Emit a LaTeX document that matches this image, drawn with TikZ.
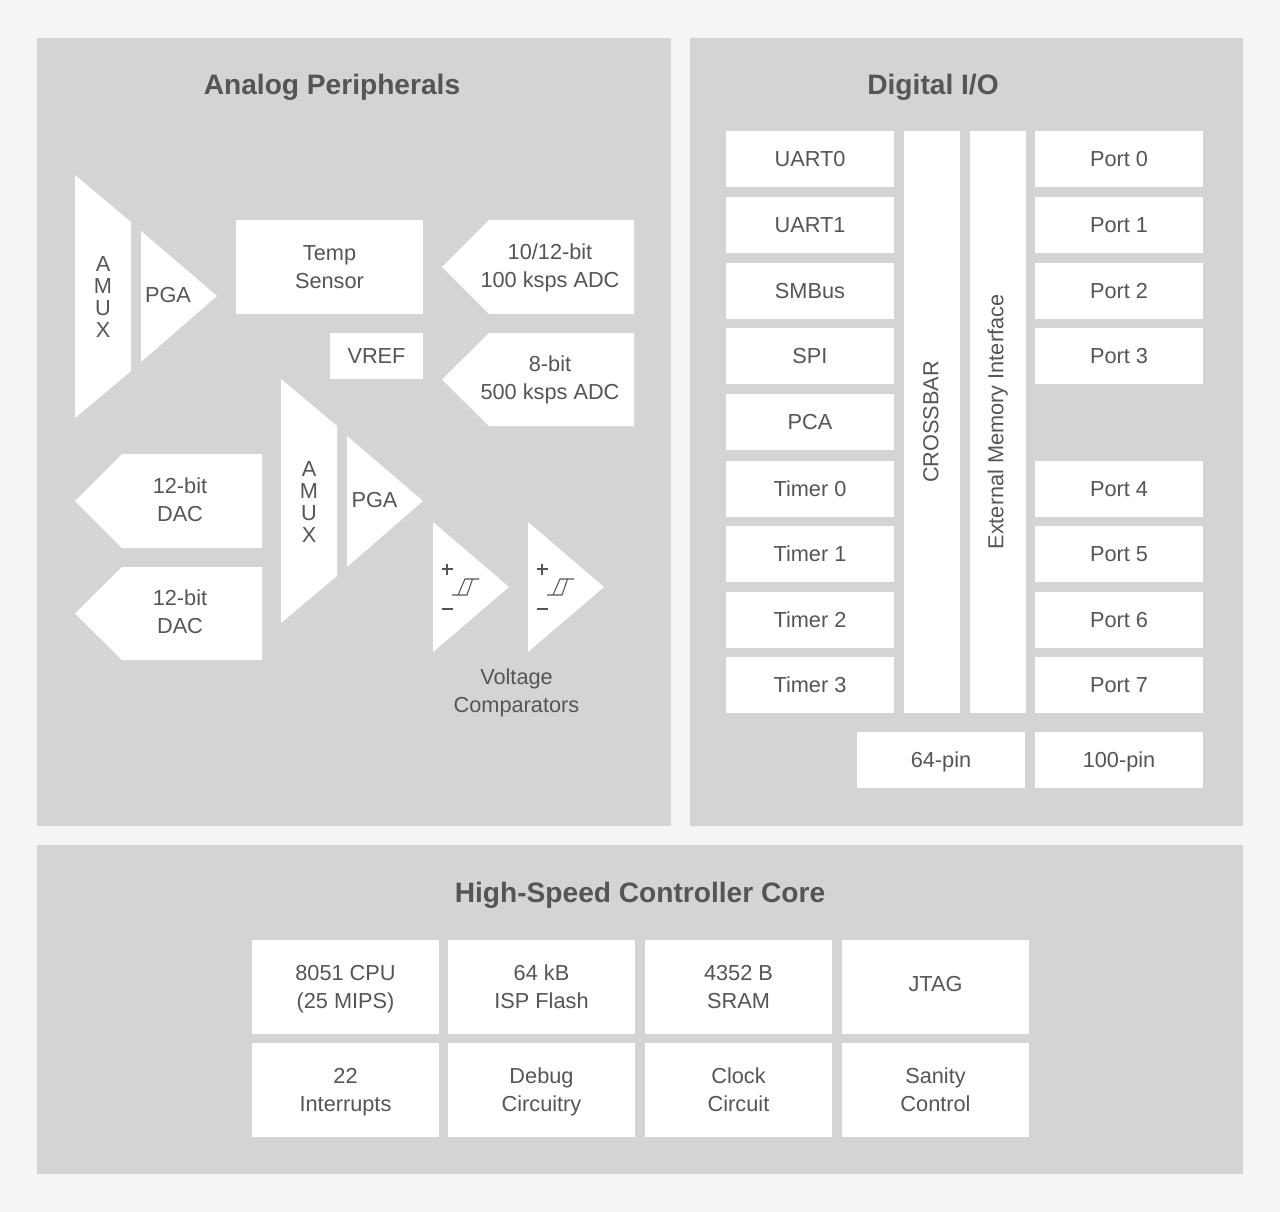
\documentclass[tikz,border=0pt]{standalone}
\usepackage{fontspec}
\setmainfont{Liberation Sans}
\definecolor{pagegrey}{RGB}{245,245,245}
\definecolor{panelgrey}{RGB}{212,212,212}
\definecolor{inkgrey}{RGB}{85,85,85}
\newcommand{\capstrut}{\vrule width 0pt height 15.1pt depth 3.9pt}
\newcommand{\topstrut}[1][15.8pt]{\vrule width 0pt height #1 depth 0pt\relax}
\tikzset{
  panel/.style={fill=panelgrey,draw=none},
  shape white/.style={fill=white,draw=none},
  stroke/.style={inkgrey,line width=0.8pt},
  heading/.style={inner sep=0.75pt,text=inkgrey,font=\fontsize{21.1}{26}\selectfont\bfseries},
  label/.style={inner sep=0.75pt,text=inkgrey,align=center,font=\fontsize{16.3}{21}\selectfont,
    execute at begin node=\capstrut},
  stack/.style={inner sep=0.75pt,text=inkgrey,align=center,font=\fontsize{16.3}{21}\selectfont},
  cell/.style={fill=white,draw=none,inner sep=0pt,text=inkgrey,align=center,font=\fontsize{16.3}{21}\selectfont,
    execute at begin node=\capstrut,minimum width=126pt,minimum height=42pt},
  tallcell/.style={cell,minimum width=140.5pt,minimum height=70.5pt},
}
\begin{document}
\begin{tikzpicture}[x=0.75pt,y=0.75pt,yscale=-1,xscale=1]
\useasboundingbox (0,0) rectangle (1280,1212);
\fill [pagegrey] (0,0) rectangle (1280,1212);

%Panels
\fill [panel] (37,38) rectangle (671,826);
\fill [panel] (690,38) rectangle (1243,826);
\fill [panel] (37,845) rectangle (1243,1174);

% Text Node
\node [heading] (analogtitle) at (332,87) {Analog Peripherals};
\node [heading] (digitaltitle) at (933,87) {Digital I/O};
\node [heading] (coretitle) at (640,895) {High-Speed Controller Core};

%Shape: first mux and amplifier
\fill [shape white] (75,175) -- (131,222) -- (131,371) -- (75,418) -- cycle;
\fill [shape white] (141,231) -- (217,296) -- (141,362) -- cycle;
%Shape: second mux and amplifier
\fill [shape white] (281,379) -- (337,426) -- (337,576) -- (281,623) -- cycle;
\fill [shape white] (347,436) -- (423,501) -- (347,567) -- cycle;
%Shape: converters
\fill [shape white] (442,267) -- (489,220) -- (634,220) -- (634,314) -- (489,314) -- cycle;
\fill [shape white] (442,379.5) -- (489,333) -- (634,333) -- (634,426) -- (489,426) -- cycle;
\fill [shape white] (75,501) -- (122,454) -- (262,454) -- (262,548) -- (122,548) -- cycle;
\fill [shape white] (75,613.5) -- (122,567) -- (262,567) -- (262,660) -- (122,660) -- cycle;
%Shape: comparators
\fill [shape white] (433,522) -- (509,587) -- (433,652) -- cycle;
\fill [shape white] (528,522) -- (604,587) -- (528,652) -- cycle;

%Straight Lines: hysteresis and inputs
\draw [stroke] (441.5,569) -- (452.5,569) (447,563.5) -- (447,574.5) (441.5,609) -- (452.5,609);
\draw [stroke] (452,595) -- (467,595) -- (472.5,579) -- (479,579) (458,595) -- (465,579) -- (472.5,579);
\draw [stroke] (536.5,569) -- (547.5,569) (542,563.5) -- (542,574.5) (536.5,609) -- (547.5,609);
\draw [stroke] (547,595) -- (562,595) -- (567.5,579) -- (574,579) (553,595) -- (560,579) -- (567.5,579);

% Text Node
\node [stack] (amuxa) at (103,297) {A\\[-4.6pt]M\\[-4.6pt]U\\[-4.6pt]X};
\node [label] (pgaa) at (168,295.5) {PGA};
\node [stack] (amuxb) at (309,502) {A\\[-4.6pt]M\\[-4.6pt]U\\[-4.6pt]X};
\node [label] (pgab) at (374.5,500.5) {PGA};
\node [label] (adca) at (550,265.5) {\topstrut 10/12-bit\\100 ksps ADC};
\node [label] (adcb) at (550,377.5) {\topstrut 8-bit\\500 ksps ADC};
\node [label] (daca) at (180,500) {\topstrut 12-bit\\DAC};
\node [label] (dacb) at (180,612) {\topstrut 12-bit\\DAC};
\node [label] (comparators) at (516.5,691) {\topstrut Voltage\\Comparators};

\node [cell,minimum width=140.5pt,minimum height=70.5pt] (tempsensor) at (329.5,267) {\topstrut Temp\\Sensor};
\node [cell,minimum width=70pt,minimum height=35pt] (vref) at (376.5,356) {VREF};

%Digital column
\node [cell] (uart0) at (810,159) {UART0};
\node [cell] (uart1) at (810,225) {UART1};
\node [cell] (smbus) at (810,291) {SMBus};
\node [cell] (spi) at (810,356) {SPI};
\node [cell] (pca) at (810,422) {PCA};
\node [cell] (timer0) at (810,489) {Timer 0};
\node [cell] (timer1) at (810,554) {Timer 1};
\node [cell] (timer2) at (810,620) {Timer 2};
\node [cell] (timer3) at (810,685) {Timer 3};

\fill [shape white] (904,131) rectangle (960,713);
\fill [shape white] (970,131) rectangle (1026,713);
\node [label,rotate=90] (crossbar) at (931,422) {CROSSBAR};
\node [label,rotate=90] (memory) at (996,422) {External Memory Interface};

\node [cell] (port0) at (1119,159) {Port 0};
\node [cell] (port1) at (1119,225) {Port 1};
\node [cell] (port2) at (1119,291) {Port 2};
\node [cell] (port3) at (1119,356) {Port 3};
\node [cell] (port4) at (1119,489) {Port 4};
\node [cell] (port5) at (1119,554) {Port 5};
\node [cell] (port6) at (1119,620) {Port 6};
\node [cell] (port7) at (1119,685) {Port 7};
\node [cell] (pin64) at (941,760) {64-pin};
\node [cell] (pin100) at (1119,760) {100-pin};

%Core grid
\node [tallcell] (cpu) at (345.5,986.5) {\topstrut 8051 CPU\\(25 MIPS)};
\node [tallcell] (flash) at (541.5,986.5) {\topstrut 64 kB\\ISP Flash};
\node [tallcell] (sram) at (738.5,986.5) {\topstrut 4352 B\\SRAM};
\node [tallcell] (jtag) at (935.5,986.5) {\raisebox{2pt}{JTAG}};
\node [tallcell] (interrupts) at (345.5,1089.5) {\topstrut[16.2pt]22\\Interrupts};
\node [tallcell] (debug) at (541.5,1089.5) {\topstrut[16.2pt]Debug\\Circuitry};
\node [tallcell] (clock) at (738.5,1089.5) {\topstrut[16.2pt]Clock\\Circuit};
\node [tallcell] (sanity) at (935.5,1089.5) {\topstrut[16.2pt]Sanity\\Control};

\end{tikzpicture}
\end{document}
